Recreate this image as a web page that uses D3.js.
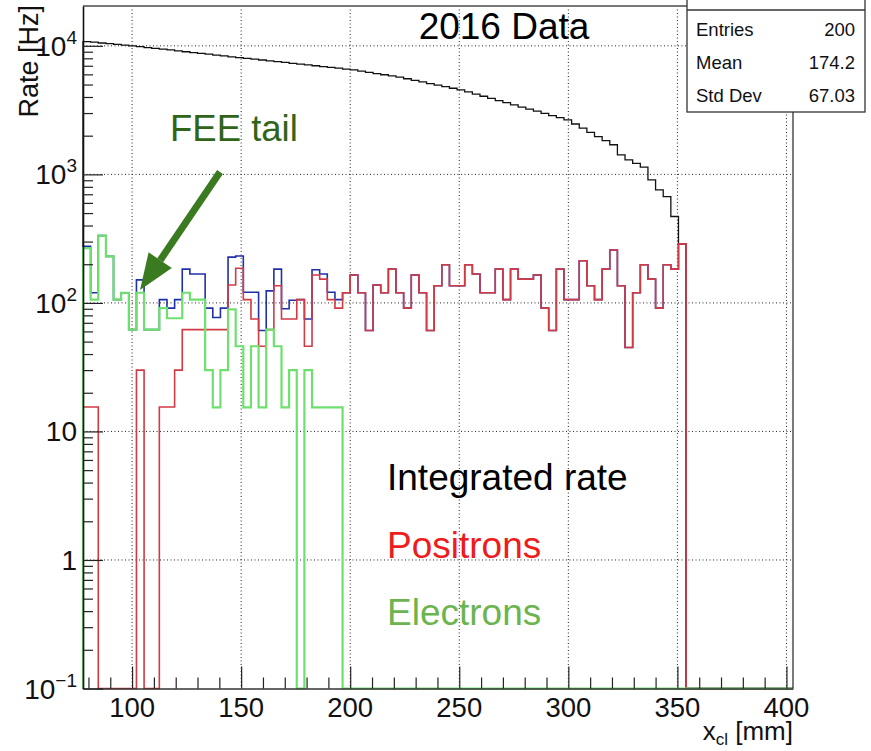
<!DOCTYPE html>
<html>
<head>
<meta charset="utf-8">
<script src="https://cdn.jsdelivr.net/npm/d3@7"></script>
<style>
  html, body { margin: 0; padding: 0; background: #fff; }
  svg { display: block; font-family: "Liberation Sans", Arial, Helvetica, sans-serif; }
</style>
</head>
<body>
<div id="chart"></div>
<script>
/** Histogram binning: 93 bins of 3.5 mm starting at 77.5 mm */
const binLow = 77.5;
const binWidth = 3.5;
const nBins = 93;

/** Bin contents [Hz]; bins not listed are empty */
const integratedRate = [
  10800, 10670, 10520, 10400, 10260, 10140, 10000, 9850, 9700, 9570,
  9420, 9290, 9140, 9000, 8870, 8730, 8610, 8470, 8360, 8220,
  8110, 8000, 7870, 7760, 7640, 7530, 7430, 7310, 7210, 7100,
  7000, 6900, 6790, 6700, 6590, 6500, 6360, 6220, 6090, 5960,
  5830, 5700, 5545, 5385, 5240, 5090, 4950, 4820, 4680, 4550,
  4380, 4215, 4055, 3900, 3750, 3610, 3475, 3340, 3220, 3100,
  2980, 2865, 2760, 2655, 2465, 2290, 2125, 1970, 1830, 1700,
  1420, 1297, 1220, 1140, 906, 757, 671, 470, 288
];
const positrons = [
  15.5, 15.5, 0, 0, 0, 0, 0, 30, 0, 0,
  15.5, 15.5, 30, 62, 62, 62, 62, 62, 62, 138,
  186, 106, 75, 46, 62, 136, 75, 75, 106, 46,
  165, 153, 106, 91, 120, 165, 120, 61, 138, 120,
  183, 120, 91, 165, 120, 61, 136, 198, 136, 136,
  198, 168, 120, 120, 183, 106, 183, 153, 153, 165,
  91, 61, 183, 106, 106, 213, 136, 106, 183, 258,
  136, 45, 120, 198, 153, 91, 198, 183, 288
];
const electrons = [
  267, 106, 334, 230, 106, 120, 62, 120, 62, 62,
  91, 76, 76, 120, 106, 106, 30, 15.4, 30, 89,
  46, 15.4, 46, 15.4, 62, 46, 15.4, 30, 0, 30,
  15.4, 15.4, 15.4, 15.4
];
const total = [
  276, 120, 334, 230, 106, 120, 62, 151, 62, 62,
  106, 91, 106, 183, 168, 168, 91, 77, 91, 227,
  232, 121, 121, 61, 124, 183, 90, 105, 106, 75,
  181, 168, 121, 106, 120, 165, 120, 61, 138, 120,
  183, 120, 91, 165, 120, 61, 136, 198, 136, 136,
  198, 168, 120, 120, 183, 106, 183, 153, 153, 165,
  91, 61, 183, 106, 106, 213, 136, 106, 183, 258,
  136, 45, 120, 198, 153, 91, 198, 183, 288
];

/** Axis ticks */
const xMajorTicks = [100, 150, 200, 250, 300, 350, 400];
const yMajorTicks = [0.1, 1, 10, 100, 1000, 10000];

/** Stats box */
const statsLabels = ["Entries", "Mean", "Std Dev"];
const statsValues = ["200", "174.2", "67.03"];

/** Text labels */
const legendLabels = ["Integrated rate", "Positrons", "Electrons"];

/** Graph configs */
const W = 871, H = 751;
const frame = { left: 83, right: 793, top: 6, bottom: 688.5 };

const svg = d3.select("#chart").append("svg")
  .attr("width", W).attr("height", H);

const xScale = d3.scaleLinear()
  .domain([binLow, binLow + nBins * binWidth])
  .range([frame.left, frame.right]);

const yScale = d3.scaleLog()
  .domain([0.1, Math.pow(10, 4.31)])
  .range([frame.bottom, frame.top]);

const yOf = (v) => (v > 0.1 ? yScale(v) : frame.bottom);
const edge = (i) => binLow + i * binWidth;

/** Grid (dotted) */
const grid = svg.append("g").attr("stroke", "#222").attr("stroke-width", 1)
  .attr("stroke-dasharray", "1,2.5");
grid.selectAll(".gx").data(xMajorTicks).enter().append("line")
  .attr("x1", (d) => xScale(d)).attr("x2", (d) => xScale(d))
  .attr("y1", frame.top).attr("y2", frame.bottom);
grid.selectAll(".gy").data(yMajorTicks.slice(1)).enter().append("line")
  .attr("x1", frame.left).attr("x2", frame.right)
  .attr("y1", (d) => yScale(d)).attr("y2", (d) => yScale(d));

/** Histogram outlines */
const stepPath = (vals) => {
  let p = `M${xScale(edge(0))},${frame.bottom}`;
  for (let i = 0; i < nBins; i++) {
    const yy = yOf(vals[i] || 0);
    p += `L${xScale(edge(i))},${yy}L${xScale(edge(i + 1))},${yy}`;
  }
  return p + `L${xScale(edge(nBins))},${frame.bottom}`;
};

const hists = [
  { vals: integratedRate, color: "#111", w: 1.3 },
  { vals: total, color: "#2030a8", w: 1.6 },
  { vals: positrons, color: "#d23a44", w: 1.6 },
  { vals: electrons, color: "#6fe06f", w: 2.2 },
];
svg.append("g").selectAll("path").data(hists).enter().append("path")
  .attr("d", (d) => stepPath(d.vals))
  .attr("fill", "none")
  .attr("stroke", (d) => d.color)
  .attr("stroke-width", (d) => d.w);

/** Frame */
svg.append("line").attr("x1", frame.left).attr("x2", frame.right)
  .attr("y1", frame.top).attr("y2", frame.top)
  .attr("stroke", "#777").attr("stroke-width", 2);
svg.append("line").attr("x1", frame.right).attr("x2", frame.right)
  .attr("y1", frame.top).attr("y2", frame.bottom)
  .attr("stroke", "#222").attr("stroke-width", 1.2);

/** X axis (ticks inside, pointing up) */
const xAxis = d3.axisTop(xScale)
  .tickValues(d3.range(80, 401, 10))
  .tickSize(0).tickFormat("");
const gx = svg.append("g").attr("transform", `translate(0,${frame.bottom})`).call(xAxis);
gx.select(".domain").attr("stroke", "#333").attr("stroke-width", 1.5);
gx.selectAll(".tick line")
  .attr("stroke", "#222").attr("stroke-width", 1.2)
  .attr("y2", (d) => (xMajorTicks.includes(d) ? -22 : -11));
svg.append("g").selectAll("text").data(xMajorTicks).enter().append("text")
  .attr("x", (d) => xScale(d)).attr("y", 717)
  .attr("text-anchor", "middle").attr("font-size", 27.5).attr("fill", "#111")
  .text((d) => d);

/** Y axis (ticks inside, pointing right) */
const yMinor = [];
yMajorTicks.forEach((m) => {
  for (let k = 2; k <= 9; k++) if (m * k < 15000) yMinor.push(m * k);
});
const yAxis = d3.axisRight(yScale)
  .tickValues(yMajorTicks.concat(yMinor))
  .tickSize(0).tickFormat("");
const gy = svg.append("g").attr("transform", `translate(${frame.left},0)`).call(yAxis);
gy.select(".domain").attr("stroke", "#111").attr("stroke-width", 1.6);
gy.selectAll(".tick line")
  .attr("stroke", "#222").attr("stroke-width", 1.2)
  .attr("x2", (d) => (yMajorTicks.includes(d) ? 20 : 10));

const yLabels = svg.append("g").attr("font-size", 28).attr("fill", "#111")
  .attr("text-anchor", "end");
yMajorTicks.forEach((d) => {
  const e = Math.round(Math.log10(d));
  const t = yLabels.append("text").attr("x", 77).attr("y", yScale(d) + 10);
  if (e === 0) t.text("1");
  else if (e === 1) t.text("10");
  else {
    t.append("tspan").text("10");
    t.append("tspan").attr("font-size", 19).attr("dy", -12)
      .text(e < 0 ? "\u2212" + -e : e);
  }
});

/** Axis titles */
svg.append("text")
  .attr("transform", "translate(38,5) rotate(-90)")
  .attr("text-anchor", "end").attr("font-size", 27).attr("fill", "#111")
  .text("Rate [Hz]");
const xt = svg.append("text").attr("x", frame.right).attr("y", 740)
  .attr("text-anchor", "end").attr("font-size", 26).attr("fill", "#111");
xt.append("tspan").text("x");
xt.append("tspan").attr("font-size", 17).attr("dy", 5).text("cl");
xt.append("tspan").attr("dy", -5).text(" [mm]");

/** Title */
svg.append("text").attr("x", 504).attr("y", 39)
  .attr("text-anchor", "middle").attr("font-size", 37).attr("fill", "#000")
  .text("2016 Data");

/** Stats box */
const sb = svg.append("g");
sb.append("rect").attr("x", 687).attr("y", -10).attr("width", 178).attr("height", 122)
  .attr("fill", "#fff").attr("stroke", "#333").attr("stroke-width", 1.3);
sb.append("line").attr("x1", 687).attr("x2", 865).attr("y1", 10).attr("y2", 10)
  .attr("stroke", "#333").attr("stroke-width", 1.3);
sb.selectAll(".sl").data(statsLabels).enter().append("text")
  .attr("x", 696).attr("y", (d, i) => 36 + i * 33)
  .attr("font-size", 18.5).attr("fill", "#111").text((d) => d);
sb.selectAll(".sv").data(statsValues).enter().append("text")
  .attr("x", 855).attr("y", (d, i) => 36 + i * 33).attr("text-anchor", "end")
  .attr("font-size", 18.5).attr("fill", "#111").text((d) => d);

/** Legend-like labels */
const legendColors = ["#000", "#ee1c1c", "#6cb450"];
svg.append("g").selectAll("text").data(legendLabels).enter().append("text")
  .attr("x", 387).attr("y", (d, i) => [490, 558, 625][i])
  .attr("font-size", 37).attr("fill", (d, i) => legendColors[i])
  .text((d) => d);

/** FEE tail annotation */
svg.append("text").attr("x", 170).attr("y", 141)
  .attr("font-size", 36.5).attr("fill", "#2f6419").text("FEE tail");
const tip = [140, 290], tail = [220, 172];
const dx = tip[0] - tail[0], dy = tip[1] - tail[1];
const len = Math.hypot(dx, dy), ux = dx / len, uy = dy / len;
const hb = [tip[0] - 36 * ux, tip[1] - 36 * uy];
svg.append("line").attr("x1", tail[0]).attr("y1", tail[1])
  .attr("x2", hb[0]).attr("y2", hb[1])
  .attr("stroke", "#3a7a20").attr("stroke-width", 7);
svg.append("path")
  .attr("d", `M${tip[0]},${tip[1]}L${hb[0] + 14 * uy},${hb[1] - 14 * ux}L${hb[0] - 14 * uy},${hb[1] + 14 * ux}Z`)
  .attr("fill", "#3a7a20");
</script>
</body>
</html>
